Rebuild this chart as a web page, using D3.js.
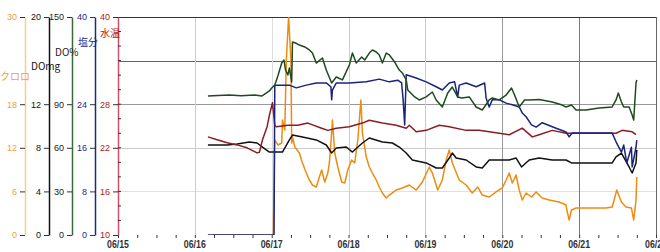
<!DOCTYPE html>
<html><head><meta charset="utf-8">
<script src="https://cdn.jsdelivr.net/npm/d3@7"></script>
<style>
html,body{margin:0;padding:0;background:#fff;}
svg{display:block;font-family:"Liberation Sans",Arial,sans-serif;}
</style></head>
<body><svg id="c" width="660" height="252"></svg>
<script>
// ---- data: [day of June (fractional), value] ----
const dateLabels = ["06/15","06/16","06/17","06/18","06/19","06/20","06/21","06/22"];
const tempTicks = [10,16,22,28,40];
const salTicks  = [0,8,16,24,40];
const doPctTicks= [0,30,60,90,150];
const doMgTicks = [0,4,8,12,20];
const chlTicks  = [0,6,12,18,30];

const doPct = [[16.17,95.6],[16.30,96.0],[16.45,96.3],[16.60,95.8],[16.78,96.3],[16.87,95.6],[16.97,99.1],[17.00,101.1],[17.04,103.2],[17.08,109.4],[17.13,118.3],[17.16,120.4],[17.18,113.5],[17.21,110.1],[17.23,114.9],[17.26,105.3],[17.27,132.8],[17.31,132.1],[17.36,130.7],[17.43,129.4],[17.49,127.3],[17.53,125.2],[17.58,118.3],[17.66,121.8],[17.71,113.5],[17.78,104.6],[17.84,108.7],[17.92,106.7],[18.01,117.0],[18.05,125.2],[18.10,118.3],[18.17,122.5],[18.21,120.4],[18.27,125.2],[18.31,127.3],[18.36,125.9],[18.40,123.9],[18.44,118.3],[18.49,125.2],[18.53,123.9],[18.60,119.0],[18.66,113.5],[18.70,111.5],[18.75,106.7],[18.77,99.8],[18.86,95.0],[18.92,92.9],[19.01,95.0],[19.09,98.4],[19.14,92.9],[19.22,88.1],[19.29,97.7],[19.35,101.8],[19.42,95.0],[19.47,94.3],[19.57,95.0],[19.66,88.1],[19.74,86.0],[19.83,92.9],[19.87,94.3],[19.96,92.9],[20.05,96.3],[20.12,101.1],[20.16,96.3],[20.22,88.1],[20.29,92.9],[20.35,92.9],[20.48,93.2],[20.65,91.5],[20.78,89.4],[20.83,88.1],[20.90,89.4],[20.96,86.0],[21.09,86.0],[21.26,87.4],[21.43,88.1],[21.48,92.9],[21.51,97.7],[21.55,91.5],[21.58,88.1],[21.65,88.1],[21.69,82.6],[21.71,79.1],[21.74,104.6],[21.75,106.7]];

const salinity = [[16.17,0],[17.03,0],[17.04,27.5],[17.06,27.5],[17.23,27.5],[17.32,27.0],[17.45,27.5],[17.58,27.9],[17.71,27.9],[17.77,27.2],[17.78,24.8],[17.79,26.6],[17.84,27.9],[18.01,27.9],[18.23,28.1],[18.40,28.6],[18.53,28.1],[18.64,28.4],[18.69,27.9],[18.71,24.8],[18.73,20.2],[18.74,24.8],[18.75,29.4],[18.88,28.8],[19.01,28.1],[19.14,27.2],[19.22,26.6],[19.31,27.9],[19.38,28.1],[19.42,25.3],[19.44,27.5],[19.53,27.9],[19.66,27.2],[19.77,27.9],[19.79,25.1],[19.83,23.5],[19.87,24.8],[19.96,24.8],[20.05,24.2],[20.13,23.9],[20.22,23.5],[20.26,22.4],[20.31,21.7],[20.38,20.2],[20.44,19.8],[20.52,20.6],[20.70,19.6],[20.83,18.9],[20.87,18.0],[20.91,18.7],[21.00,18.7],[21.26,18.7],[21.43,18.7],[21.48,17.1],[21.55,15.2],[21.58,16.5],[21.62,13.2],[21.68,16.1],[21.69,12.5],[21.74,16.1],[21.75,17.4]];

const temp = [[16.17,23.5],[16.29,23.1],[16.42,22.7],[16.55,22.4],[16.68,22.0],[16.81,21.3],[16.84,21.4],[16.88,23.1],[16.94,24.9],[16.97,26.5],[17.01,28.2],[17.04,25.1],[17.06,24.9],[17.21,25.1],[17.34,25.1],[17.47,25.4],[17.65,24.7],[17.73,24.4],[17.84,24.7],[18.01,24.9],[18.18,25.4],[18.27,25.8],[18.44,25.4],[18.62,25.1],[18.75,24.7],[18.79,25.1],[18.88,24.2],[19.01,24.4],[19.18,25.1],[19.31,24.9],[19.53,24.4],[19.70,24.4],[19.96,24.0],[20.09,23.8],[20.26,24.7],[20.39,23.5],[20.48,23.8],[20.65,24.4],[20.83,24.0],[21.00,24.0],[21.26,24.0],[21.48,24.0],[21.56,24.4],[21.69,24.2],[21.74,23.8]];

const doMg = [[16.17,8.26],[16.42,8.26],[16.55,8.35],[16.71,8.53],[16.81,8.44],[16.88,8.07],[16.97,7.61],[17.04,7.61],[17.14,7.61],[17.23,8.72],[17.27,9.17],[17.40,8.99],[17.58,8.72],[17.71,8.26],[17.78,7.52],[17.84,7.98],[17.97,8.07],[18.05,7.61],[18.18,8.44],[18.27,8.90],[18.44,8.53],[18.57,8.44],[18.66,8.07],[18.75,7.52],[18.83,6.88],[19.01,6.61],[19.14,6.15],[19.22,6.15],[19.31,7.06],[19.35,7.52],[19.40,7.06],[19.53,6.88],[19.66,6.24],[19.74,6.15],[19.83,6.88],[19.96,6.88],[20.09,6.88],[20.18,7.06],[20.25,6.24],[20.35,6.88],[20.48,7.06],[20.65,6.88],[20.83,6.88],[20.90,6.61],[20.96,6.61],[21.26,6.61],[21.43,6.61],[21.48,7.16],[21.55,7.52],[21.65,6.24],[21.69,5.69],[21.74,6.61],[21.75,7.80]];

const chl = [[16.23,0],[17.02,0],[17.04,13.07],[17.08,12.39],[17.13,12.66],[17.14,15.83],[17.17,14.45],[17.19,24.08],[17.22,30],[17.25,24.08],[17.26,12.66],[17.27,13.49],[17.30,12.11],[17.36,11.28],[17.40,9.91],[17.45,8.53],[17.49,7.57],[17.53,6.88],[17.58,6.61],[17.62,7.98],[17.65,8.94],[17.69,7.29],[17.73,8.53],[17.75,9.91],[17.78,14.04],[17.79,15.83],[17.82,11.28],[17.86,9.36],[17.91,7.29],[17.95,7.16],[17.99,8.94],[18.04,10.32],[18.08,9.91],[18.12,13.07],[18.16,18.58],[18.18,14.04],[18.23,10.73],[18.27,9.36],[18.31,8.53],[18.36,7.57],[18.40,6.61],[18.44,5.78],[18.49,5.09],[18.53,5.50],[18.62,6.19],[18.70,6.47],[18.79,6.88],[18.88,6.19],[18.96,7.29],[19.05,9.36],[19.09,8.53],[19.16,6.19],[19.22,7.57],[19.27,10.32],[19.31,11.70],[19.35,9.91],[19.44,7.57],[19.53,6.88],[19.61,5.78],[19.68,6.61],[19.74,5.50],[19.83,5.23],[19.92,5.92],[20.00,6.47],[20.05,7.57],[20.09,8.53],[20.13,7.16],[20.18,8.26],[20.22,6.19],[20.26,4.82],[20.31,5.78],[20.38,5.23],[20.44,5.92],[20.52,5.09],[20.61,4.82],[20.74,4.54],[20.83,4.13],[20.84,3.44],[20.87,2.06],[20.90,3.44],[20.96,3.72],[21.09,3.72],[21.35,3.72],[21.43,3.85],[21.49,6.19],[21.55,4.54],[21.61,3.85],[21.68,3.72],[21.71,2.06],[21.74,4.82],[21.75,7.98]];

// ---- layout ----
const svg = d3.select("#c");
const pTop = 17, pBottom = 235, pLeft = 118, pRight = 656;
const toDate = d => new Date(2024, 5, Math.floor(d)).getTime() + (d - Math.floor(d)) * 864e5;
const x = d3.scaleTime().domain([new Date(2024,5,15), new Date(2024,5,22)]).range([pLeft, pRight]);

const yTemp = d3.scaleLinear().domain([10,40]).range([pBottom, pTop]);
const ySal  = d3.scaleLinear().domain([0,40]).range([pBottom, pTop]);
const yPct  = d3.scaleLinear().domain([0,150]).range([pBottom, pTop]);
const yMg   = d3.scaleLinear().domain([0,20]).range([pBottom, pTop]);
const yChl  = d3.scaleLinear().domain([0,30]).range([pBottom, pTop]);

// grid
const hGrid = [[34,"#666"],[28,"#999"],[22,"#ccc"],[16,"#e0e0e0"]];
hGrid.forEach(([v,c]) => svg.append("line").attr("x1", pLeft).attr("x2", pRight)
  .attr("y1", Math.round(yTemp(v))+0.5).attr("y2", Math.round(yTemp(v))+0.5).attr("stroke", c));
const vGridColors = ["none","#ccc","#ddd","#ccc","#ccc","#999","#777","#666"];
dateLabels.forEach((lab,i) => {
  if (i === 0) return;
  const xx = Math.round(x(new Date(2024,5,15+i))) + 0.5;
  svg.append("line").attr("x1", xx).attr("x2", xx).attr("y1", pTop).attr("y2", pBottom).attr("stroke", vGridColors[i]);
});
svg.append("line").attr("x1", pLeft).attr("x2", pRight).attr("y1", pTop+0.5).attr("y2", pTop+0.5).attr("stroke", "#333");

// x axis: 6h minor ticks and date labels
const xAxis = d3.axisBottom(x)
  .ticks(d3.timeHour.every(6)).tickSize(3).tickFormat("");
const gx = svg.append("g").attr("transform", `translate(0,${pBottom})`).call(xAxis);
gx.select(".domain").remove();
gx.selectAll(".tick line").attr("stroke", "#333");
dateLabels.forEach((lab,i) => {
  svg.append("text").attr("x", x(new Date(2024,5,15+i))).attr("y", 248)
    .attr("text-anchor","middle").attr("font-size", 10).attr("font-weight","bold")
    .attr("fill","#333").attr("textLength", 22).attr("lengthAdjust","spacingAndGlyphs").text(lab);
});

// y axes
function yAxis(scale, ticks, xpos, lineColor, textColor, title, tx, ty) {
  const g = svg.append("g").attr("transform", `translate(${xpos},0)`)
    .call(d3.axisLeft(scale).tickValues(ticks).tickSize(5).tickSizeOuter(0).tickPadding(3));
  g.select(".domain").attr("stroke", lineColor).attr("stroke-width", 1.5);
  g.selectAll(".tick line").attr("stroke", "#333");
  g.selectAll(".tick text").attr("fill", textColor).attr("font-size", 9).attr("font-family", '"Liberation Sans",Arial,sans-serif');
  svg.append("text").attr("x", tx).attr("y", ty).attr("fill", textColor).attr("font-size", 10)
    .attr("font-family", '"Noto Sans CJK JP","Liberation Sans",sans-serif').text(title);
  return g;
}
yAxis(yChl, chlTicks, 25, "#f2d27a", "#f0a040", "クロロ", 0, 80);
yAxis(yMg, doMgTicks, 49, "#111", "#111", "DOmg", 31, 70);
yAxis(yPct, doPctTicks, 72, "#3a6a3a", "#222", "DO%", 55, 56);
yAxis(ySal, salTicks, 95, "#1a2a80", "#1a2a90", "塩分", 78, 46);
yAxis(yTemp, tempTicks, 118, "#d05068", "#b02020", "水温", 100, 37);
// minor inward ticks on temperature axis
d3.range(12, 40, 2).forEach(v => {
  svg.append("line").attr("x1", 118).attr("x2", 121).attr("y1", yTemp(v)).attr("y2", yTemp(v)).attr("stroke", "#333");
});

// series
svg.append("clipPath").attr("id","clip").append("rect").attr("x", pLeft).attr("y", pTop).attr("width", pRight-pLeft).attr("height", pBottom-pTop);
const plot = svg.append("g").attr("clip-path","url(#clip)");
function drawLine(data, scale, color, w) {
  const line = d3.line().x(d => x(toDate(d[0]))).y(d => scale(d[1]));
  plot.append("path").datum(data).attr("d", line).attr("fill","none")
    .attr("stroke", color).attr("stroke-width", w).attr("stroke-linejoin","round");
}
drawLine(chl, yChl, "#ee8c10", 1.5);
drawLine(doMg, yMg, "#111", 1.5);
drawLine(temp, yTemp, "#8a1c24", 1.5);
drawLine(salinity, ySal, "#1a237e", 1.5);
drawLine(doPct, yPct, "#1f4a1f", 1.5);
</script></body></html>
